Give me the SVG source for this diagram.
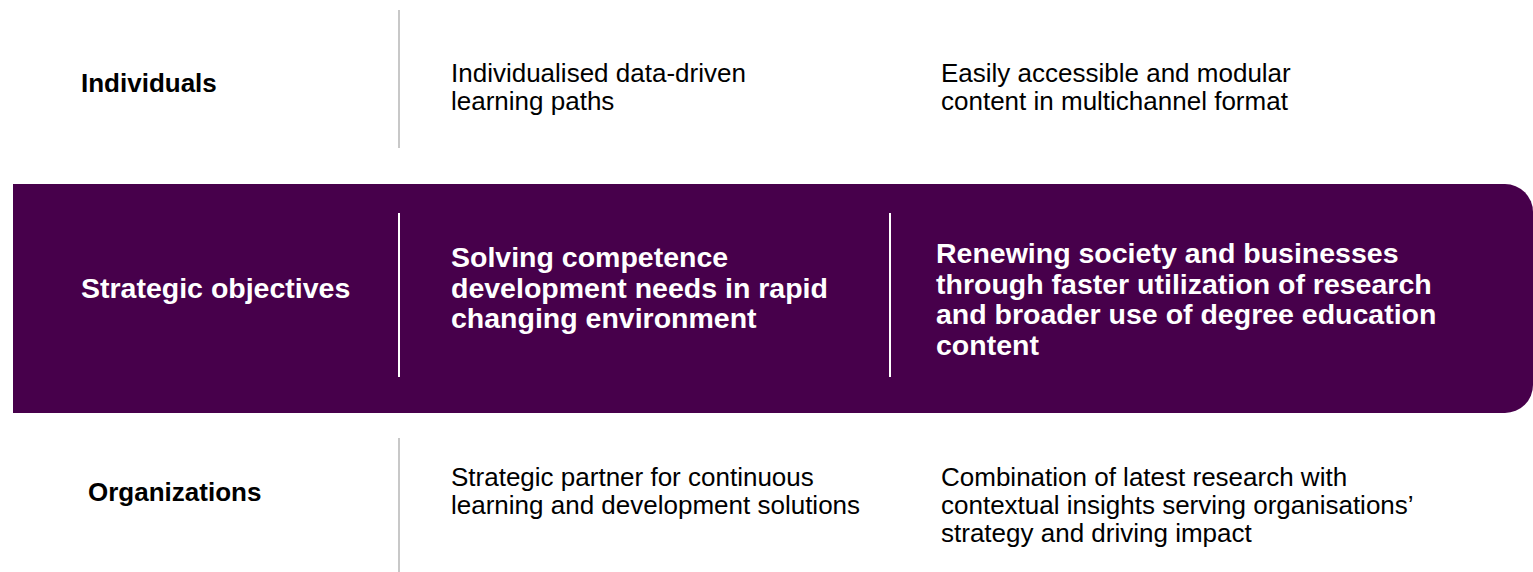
<svg xmlns="http://www.w3.org/2000/svg" width="1533" height="572" viewBox="0 0 1533 572">
<style>
.lbl{font-family:"Liberation Sans",Arial,sans-serif;font-size:26px;font-weight:bold;fill:#000}
.txt{font-family:"Liberation Sans",Arial,sans-serif;font-size:26px;fill:#000}
.wl{font-family:"Liberation Sans",Arial,sans-serif;font-size:28.5px;font-weight:bold;fill:#fff}
.gl{stroke:#c8c8c8;stroke-width:2}
.wln{stroke:#fff;stroke-width:2}
</style>
<rect width="1533" height="572" fill="#fff"/>
<g id="band">
<path d="M13,184 H1505 A28,28 0 0 1 1533,212 V385 A28,28 0 0 1 1505,413 H13 Z" fill="#47004B"/>
</g>
<g id="connectors">
<line class="gl" x1="399" y1="10" x2="399" y2="148"/>
<line class="gl" x1="399" y1="438" x2="399" y2="572"/>
<line class="wln" x1="399" y1="213" x2="399" y2="377"/>
<line class="wln" x1="890" y1="213" x2="890" y2="377"/>
</g>
<g id="individuals">
<text class="lbl" x="81" y="92">Individuals</text>
</g>
<g id="ind-col1">
<text class="txt" x="451" y="82">Individualised data-driven</text>
<text class="txt" x="451" y="110">learning paths</text>
</g>
<g id="ind-col2">
<text class="txt" x="941" y="82">Easily accessible and modular</text>
<text class="txt" x="941" y="110">content in multichannel format</text>
</g>
<g id="strategic">
<text class="wl" x="81" y="298">Strategic objectives</text>
</g>
<g id="strat-col1">
<text class="wl" x="451" y="267">Solving competence</text>
<text class="wl" x="451" y="297.5">development needs in rapid</text>
<text class="wl" x="451" y="328">changing environment</text>
</g>
<g id="strat-col2">
<text class="wl" x="936" y="263">Renewing society and businesses</text>
<text class="wl" x="936" y="293.5">through faster utilization of research</text>
<text class="wl" x="936" y="324">and broader use of degree education</text>
<text class="wl" x="936" y="354.5">content</text>
</g>
<g id="organizations">
<text class="lbl" x="88" y="501">Organizations</text>
</g>
<g id="org-col1">
<text class="txt" x="451" y="486">Strategic partner for continuous</text>
<text class="txt" x="451" y="514">learning and development solutions</text>
</g>
<g id="org-col2">
<text class="txt" x="941" y="486">Combination of latest research with</text>
<text class="txt" x="941" y="514">contextual insights serving organisations’</text>
<text class="txt" x="941" y="542">strategy and driving impact</text>
</g>
</svg>
